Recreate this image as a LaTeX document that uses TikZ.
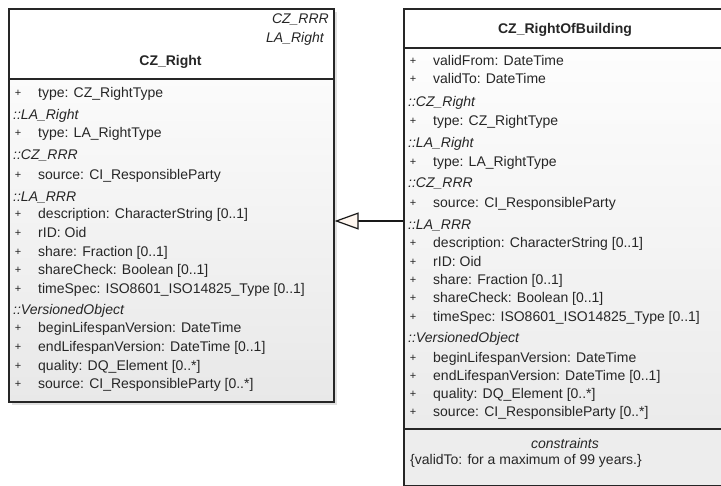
\documentclass[tikz,border=0pt]{standalone}
\usepackage{fontspec}
\setmainfont{Liberation Sans}
\usetikzlibrary{arrows.meta,positioning,shadows}

\begin{document}
\begin{tikzpicture}[x=1pt, y=-1pt,
  every node/.style={font=\fontsize{14}{16}\selectfont, text=black!85, inner sep=0pt},
  frame/.style={draw=black!85, line width=1.6pt, anchor=north west},
  body/.style={frame, top color=white, bottom color=black!9,
    drop shadow={shadow xshift=3pt, shadow yshift=-3pt, fill=black!12, opacity=1}},
  head/.style={frame, fill=white},
  attr/.style={anchor=west, text height=10pt, text depth=1.5pt},
  plus/.style={font=\fontsize{11}{13}\selectfont, text height=7pt, text depth=0pt},
  grp/.style={attr, font=\fontsize{14}{16}\selectfont\itshape}]
\useasboundingbox (0,0) rectangle (721,486);

% CZ_Right
\node[body, minimum width=325pt, minimum height=393pt] (right) at (8,8) {};
\node[head, minimum width=325pt, minimum height=70pt] (rightHead) at (8,8) {};
\node[grp, anchor=east] (rightSup1) at (329,19) {CZ\_RRR};
\node[grp, anchor=east] (rightSup2) at (324,38) {LA\_Right};
\node[font=\fontsize{14}{16}\selectfont\bfseries] (rightName) at (170.5,62) {CZ\_Right};
\foreach \y/\t [count=\i] in {93/{type: CZ\_RightType}, 133/{type: LA\_RightType},
    175/{source: CI\_ResponsibleParty}, 214/{description: CharacterString [0..1]},
    233/{rID: Oid}, 252/{share: Fraction [0..1]}, 270/{shareCheck: Boolean [0..1]},
    289/{timeSpec: ISO8601\_ISO14825\_Type [0..1]}, 328/{beginLifespanVersion: DateTime},
    347/{endLifespanVersion: DateTime [0..1]}, 366/{quality: DQ\_Element [0..*]},
    384/{source: CI\_ResponsibleParty [0..*]}}
  {\node[plus] (rightP\i) at (18,\y) {+};
   \node[attr] (rightA\i) at (38,\y) {\t};}
\foreach \y/\t [count=\i] in {115/LA\_Right, 155/CZ\_RRR, 197/LA\_RRR, 310/VersionedObject}
  \node[grp] (rightG\i) at (13,\y) {::\t};

% CZ_RightOfBuilding
\node[body, minimum width=320pt, minimum height=477pt] (rob) at (403,8) {};
\node[head, minimum width=320pt, minimum height=39pt] (robHead) at (403,8) {};
\node[frame, fill=black!7, minimum width=320pt, minimum height=57pt] (robCons) at (403,428) {};
\node[font=\fontsize{14}{16}\selectfont\bfseries] (robName) at (565,30) {CZ\_RightOfBuilding};
\foreach \y/\t [count=\i] in {61/{validFrom: DateTime}, 79/{validTo: DateTime},
    121/{type: CZ\_RightType}, 162/{type: LA\_RightType},
    203/{source: CI\_ResponsibleParty}, 243/{description: CharacterString [0..1]},
    262/{rID: Oid}, 280/{share: Fraction [0..1]}, 298/{shareCheck: Boolean [0..1]},
    317/{timeSpec: ISO8601\_ISO14825\_Type [0..1]}, 358/{beginLifespanVersion: DateTime},
    376/{endLifespanVersion: DateTime [0..1]}, 394/{quality: DQ\_Element [0..*]},
    412/{source: CI\_ResponsibleParty [0..*]}}
  {\node[plus] (robP\i) at (413,\y) {+};
   \node[attr] (robA\i) at (433,\y) {\t};}
\foreach \y/\t [count=\i] in {102/CZ\_Right, 143/LA\_Right, 183/CZ\_RRR, 225/LA\_RRR, 338/VersionedObject}
  \node[grp] (robG\i) at (408,\y) {::\t};
\node[font=\fontsize{14}{16}\selectfont\itshape] (consTitle) at (565,443) {constraints};
\node[attr] (consText) at (410,460) {\{validTo: for a maximum of 99 years.\}};

% generalization
\coordinate (gen) at (0,221);
\draw[draw=black!90, line width=1.8pt, -{Triangle[length=24pt, width=17pt, fill=orange!6, line width=1.2pt]}]
  (rob.west |- gen) -- (right.east |- gen);
\end{tikzpicture}
\end{document}
